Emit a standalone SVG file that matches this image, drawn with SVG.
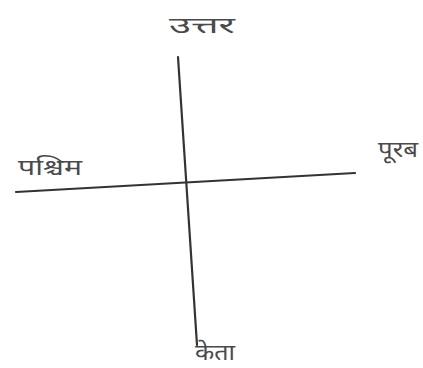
<svg xmlns="http://www.w3.org/2000/svg" width="423" height="368" viewBox="0 0 423 368">
<style>
.lbl{font-family:"Noto Sans Devanagari","Noto Sans","Lohit Devanagari","Liberation Sans",sans-serif;font-size:22px;fill:#4a4a4a;}
.ln{stroke:#333;stroke-width:2.2;fill:none;stroke-linecap:round;}
</style>
<rect width="423" height="368" fill="#fff"/>
<g id="connectors">
<line class="ln" x1="178" y1="57" x2="197" y2="345"/>
<line class="ln" x1="16" y1="192" x2="355" y2="173"/>
</g>
<g id="north"><text class="lbl" x="169" y="33" textLength="66" lengthAdjust="spacingAndGlyphs">उत्तर</text></g>
<g id="west"><text class="lbl" x="18" y="175" textLength="64" lengthAdjust="spacingAndGlyphs">पश्चिम</text></g>
<g id="east"><text class="lbl" x="378" y="157" textLength="40" lengthAdjust="spacingAndGlyphs">पूरब</text></g>
<g id="south"><text class="lbl" x="195" y="360" textLength="40" lengthAdjust="spacingAndGlyphs">केता</text></g>
</svg>
